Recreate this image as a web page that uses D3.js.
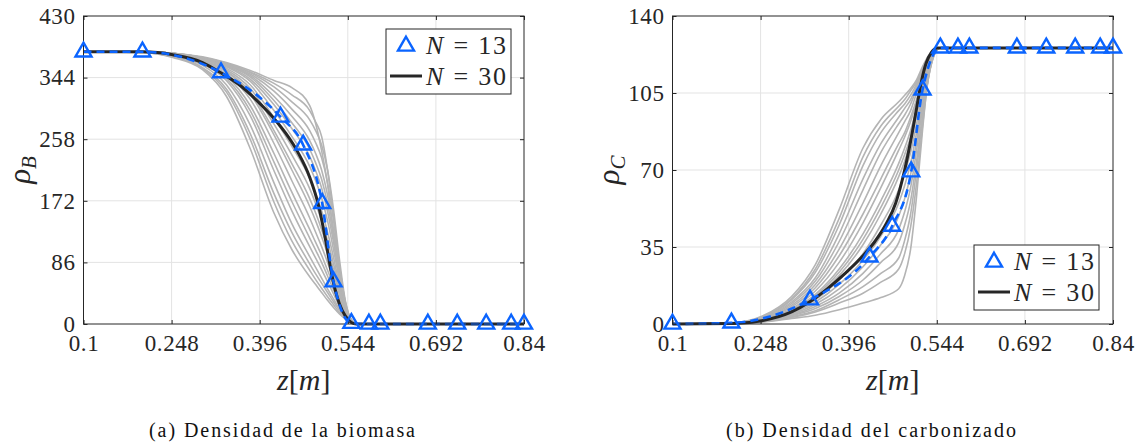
<!DOCTYPE html>
<html>
<head>
<meta charset="utf-8">
<script src="https://cdn.jsdelivr.net/npm/d3@7"></script>
<style>
  html, body { margin: 0; padding: 0; background: #fff; }
  svg { display: block; font-family: "Liberation Serif", "DejaVu Serif", serif; }
  svg text { font-family: "Liberation Serif", "DejaVu Serif", serif !important; fill: #262626; }
</style>
</head>
<body>
<svg id="fig" width="1139" height="443"></svg>
<script>
// Axial positions (m)
const zTicks = [0.1, 0.248, 0.396, 0.544, 0.692, 0.84];
const rhoBTicks = [0, 86, 172, 258, 344, 430];
const rhoCTicks = [0, 35, 70, 105, 140];

// Collocation nodes of the N = 13 solution
const zN13 = [0.1, 0.199, 0.331, 0.431, 0.469, 0.501, 0.520, 0.550, 0.5795, 0.5987, 0.6785, 0.7279, 0.7765, 0.8185, 0.84];
const rhoBN13 = [380, 380, 351, 289, 250, 168.5, 59, 1, 0, 0, 0, 0, 0, 0, 0];
const rhoCN13 = [0, 0.5, 11, 30.5, 44.5, 69.2, 106.4, 125.5, 125.5, 125.5, 125.5, 125.5, 125.5, 125.5, 125.5];

// Reference solution N = 30
const zN30B = [0.1, 0.2, 0.25, 0.3, 0.33, 0.36, 0.39, 0.42, 0.44, 0.46, 0.48, 0.495, 0.505, 0.515, 0.522, 0.53, 0.54, 0.55, 0.558, 0.84];
const rhoBN30 = [380, 380, 376, 365, 351, 335, 313, 287, 266, 240, 205, 165, 125, 78, 50, 28, 11, 2, 0, 0];
const zN30C = [0.1, 0.2, 0.25, 0.3, 0.33, 0.36, 0.39, 0.42, 0.44, 0.46, 0.475, 0.49, 0.5, 0.51, 0.518, 0.526, 0.535, 0.545, 0.84];
const rhoCN30 = [0, 0.2, 1.5, 5.5, 10, 16, 23, 31, 37.5, 46, 55, 70, 83, 98, 110, 118.5, 123.5, 125.5, 125.5];

// Sampled realisations (gray), all on the same z grid
const zSamples = [0.1, 0.2, 0.25, 0.3, 0.34, 0.38, 0.42, 0.45, 0.48, 0.49, 0.5, 0.51, 0.52, 0.53, 0.54, 0.55, 0.56, 0.84];
const rhoBSamples = [
  [380,379,372,355,318,245,155,104,66,55,44,33,23,14,7,2,0,0],
  [380,379,373,357,324,258,170,116,75,62,50,38,27,16,8,2,0,0],
  [380,379,373,358,328,266,182,128,84,70,57,44,31,19,9,2,0,0],
  [380,380,374,361,334,278,197,140,94,79,64,49,35,21,10,2,0,0],
  [380,380,375,363,340,291,214,158,108,92,76,59,42,25,11,3,0,0],
  [380,380,375,364,343,298,226,171,120,103,86,67,48,28,12,3,0,0],
  [380,380,375,365,346,305,238,184,132,114,96,75,54,31,13,3,0,0],
  [380,380,376,366,349,314,252,200,148,128,108,86,62,36,15,3,0,0],
  [380,380,376,367,352,321,264,215,164,144,122,98,70,41,17,4,0,0],
  [380,380,376,367,353,324,270,224,175,155,132,106,76,45,18,4,0,0],
  [380,380,377,368,355,329,279,236,189,168,144,116,84,49,19,4,0,0],
  [380,380,377,369,357,334,288,248,203,182,158,128,93,54,21,4,0,0],
  [380,380,377,370,359,339,298,262,220,200,176,144,104,61,23,5,0,0],
  [380,380,378,370,360,342,306,273,234,214,190,157,114,66,24,5,0,0],
  [380,380,378,371,361,345,312,281,244,225,202,168,122,70,26,5,0,0],
  [380,380,378,371,362,347,318,290,256,238,215,180,132,75,27,5,0,0],
  [380,380,378,372,363,349,325,300,270,253,232,197,145,82,29,6,0,0],
  [380,380,378,372,364,351,331,310,285,270,250,215,160,90,32,6,0,0],
  [380,380,378,372,364,352,336,320,298,282,262,215,150,80,30,6,0,0],
  [380,380,378,373,365,354,340,330,305,280,242,195,125,68,25,6,0,0]
];
const rhoCSamples = [
  [0,0.5,3.5,12.5,27,52,80,93,101,104,107,111,117,122,125,125.5,125.5,125.5],
  [0,0.4,3.2,11.5,25,48,76,90,99,102,106,110,116,121,124.5,125.5,125.5,125.5],
  [0,0.4,3,11,23.5,45,72,87,97,100,104,109,116,121,124.5,125.5,125.5,125.5],
  [0,0.4,2.8,10,21,41,66,82,94,98,102,108,115,121,124.5,125.5,125.5,125.5],
  [0,0.3,2.6,9.3,19.5,37.5,61,78,91,95,100,107,114,120,124,125.5,125.5,125.5],
  [0,0.3,2.4,8.5,18,34,55,72,87,92,97,105,113,120,124,125.5,125.5,125.5],
  [0,0.3,2.2,7.8,16.5,31,50,66,82,87,94,102,112,119,124,125.5,125.5,125.5],
  [0,0.3,2,7,15,28,46,62,79,85,92,101,111,119,124,125.5,125.5,125.5],
  [0,0.3,1.9,6.5,13.5,25,41,56,73,80,88,98,109,118,123.5,125.5,125.5,125.5],
  [0,0.3,1.8,6.2,12.8,23.5,38.5,53,70,77,85,96,108,117,123.5,125.5,125.5,125.5],
  [0,0.3,1.8,6,12,22,36,50,67,74,83,95,107,117,123.5,125.5,125.5,125.5],
  [0,0.2,1.6,5.5,11,20,32,45,61,69,78,91,105,116,123,125.5,125.5,125.5],
  [0,0.2,1.5,5,10,18,29,40,55,63,73,87,103,115,123,125.5,125.5,125.5],
  [0,0.2,1.4,4.5,9,16,26,36,49,57,68,83,100,114,123,125.5,125.5,125.5],
  [0,0.2,1.3,4,8,14,23,32,43,51,62,79,98,113,122.5,125.5,125.5,125.5],
  [0,0.2,1.2,3.7,7,12.5,20,28,37,45,56,74,95,112,122.5,125.5,125.5,125.5],
  [0,0.2,1.1,3.3,6,11,17,23,30,38,50,70,93,112,122.5,125.5,125.5,125.5],
  [0,0.2,1,3,5.5,9.5,14,19,25,32,44,64,90,112,123,125.5,125.5,125.5],
  [0,0.1,0.8,2.5,4,6.5,9.5,12,16,22,34,58,88,113,123,125.5,125.5,125.5]
];

const svg = d3.select("#fig");
const BLUE = "#0a64ff";
const GRAY = "#b4b4b4";
const DARK = "#262626";

function triPath(size) {
  // upward triangle centred on its centroid
  const h = size * Math.sqrt(3) / 2;
  return `M0,${-2 * h / 3}L${size / 2},${h / 3}L${-size / 2},${h / 3}Z`;
}

function panel(opt) {
  const x = d3.scaleLinear().domain([0.1, 0.84]).range([opt.left, opt.left + 440.5]);
  const y = d3.scaleLinear().domain([0, opt.ymax]).range([324, 16]);
  const g = svg.append("g");

  // grid
  g.append("g").selectAll("line").data(zTicks.slice(1, -1)).join("line")
    .attr("x1", d => x(d)).attr("x2", d => x(d)).attr("y1", y(0)).attr("y2", y(opt.ymax))
    .attr("stroke", "#e3e3e3").attr("stroke-width", 1);
  g.append("g").selectAll("line").data(opt.yTicks.slice(1, -1)).join("line")
    .attr("x1", x(0.1)).attr("x2", x(0.84)).attr("y1", d => y(d)).attr("y2", d => y(d))
    .attr("stroke", "#e3e3e3").attr("stroke-width", 1);

  const lineS = d3.line().x((d, i) => x(zSamples[i])).y(d => y(d)).curve(d3.curveMonotoneX);
  g.append("g").selectAll("path").data(opt.samples).join("path")
    .attr("d", lineS).attr("fill", "none").attr("stroke", GRAY).attr("stroke-width", 1.6);

  const lineXY = d3.line().x(d => x(d[0])).y(d => y(d[1])).curve(d3.curveMonotoneX);
  g.append("path").datum(opt.z30.map((z, i) => [z, opt.v30[i]]))
    .attr("d", lineXY).attr("fill", "none").attr("stroke", DARK).attr("stroke-width", 3);

  const pts13 = zN13.map((z, i) => [z, opt.v13[i]]);
  g.append("path").datum(pts13)
    .attr("d", lineXY).attr("fill", "none").attr("stroke", BLUE).attr("stroke-width", 2.6)
    .attr("stroke-dasharray", "8,5");

  // axes box
  g.append("rect").attr("x", x(0.1)).attr("y", y(opt.ymax))
    .attr("width", x(0.84) - x(0.1)).attr("height", y(0) - y(opt.ymax))
    .attr("fill", "none").attr("stroke", DARK).attr("stroke-width", 1);

  // axes with inward ticks
  const xa = g.append("g").attr("transform", `translate(0,${y(0)})`)
    .call(d3.axisBottom(x).tickValues(zTicks).tickSize(-4).tickPadding(11).tickFormat(d => String(d)));
  const ya = g.append("g").attr("transform", `translate(${x(0.1)},0)`)
    .call(d3.axisLeft(y).tickValues(opt.yTicks).tickSize(-4).tickPadding(8));
  const yr = g.append("g").attr("transform", `translate(${x(0.84)},0)`)
    .call(d3.axisRight(y).tickValues(opt.yTicks).tickSize(-4).tickFormat(""));
  const xt = g.append("g").attr("transform", `translate(0,${y(opt.ymax)})`)
    .call(d3.axisTop(x).tickValues(zTicks).tickSize(-4).tickFormat(""));
  [xa, ya, yr, xt].forEach(a => {
    a.attr("font-family", null).attr("font-size", null);
    a.select(".domain").remove();
    a.selectAll(".tick line").attr("stroke", DARK);
    a.selectAll("text").attr("font-size", 23).attr("letter-spacing", 0.6).attr("fill", DARK);
  });
  xa.selectAll("text").attr("dy", "0.71em");

  // markers
  g.append("g").selectAll("path").data(pts13).join("path")
    .attr("transform", d => `translate(${x(d[0])},${y(d[1])})`)
    .attr("d", triPath(16)).attr("fill", "none").attr("stroke", BLUE).attr("stroke-width", 2.4);

  // axis titles
  const xl = g.append("text").attr("x", (x(0.1) + x(0.84)) / 2).attr("y", 390)
    .attr("text-anchor", "middle").attr("font-size", 30);
  xl.append("tspan").attr("font-style", "italic").text("z");
  xl.append("tspan").text("[");
  xl.append("tspan").attr("font-style", "italic").text("m");
  xl.append("tspan").text("]");

  const yl = g.append("text").attr("transform", `translate(${opt.left - 54},170) rotate(-90)`)
    .attr("text-anchor", "middle").attr("font-size", 31);
  yl.append("tspan").attr("font-style", "italic").text("ρ");
  yl.append("tspan").attr("font-style", "italic").attr("font-size", 21).attr("dy", 6).text(opt.sub);

  // legend
  const L = opt.legend;
  const lg = g.append("g").attr("transform", `translate(${L.x},${L.y})`);
  lg.append("rect").attr("width", 125).attr("height", 65).attr("fill", "#fff")
    .attr("stroke", DARK).attr("stroke-width", 1);
  lg.append("path").attr("transform", "translate(20,17)").attr("d", triPath(16))
    .attr("fill", "none").attr("stroke", BLUE).attr("stroke-width", 2.4);
  lg.append("line").attr("x1", 4).attr("x2", 36).attr("y1", 47).attr("y2", 47)
    .attr("stroke", DARK).attr("stroke-width", 3);
  [["13", 25], ["30", 56]].forEach(([n, yy]) => {
    const t = lg.append("text").attr("x", 40).attr("y", yy).attr("font-size", 26)
      .attr("textLength", 80).attr("lengthAdjust", "spacing");
    t.append("tspan").attr("font-style", "italic").text("N");
    t.append("tspan").text(" = " + n);
  });

  // caption
  svg.append("text").attr("x", opt.capX).attr("y", 437).attr("text-anchor", "middle")
    .attr("font-size", 20).style("fill", "#111")
    .attr("textLength", opt.capW).attr("lengthAdjust", "spacing").text(opt.caption);
}

panel({
  left: 83.5, ymax: 430, yTicks: rhoBTicks, samples: rhoBSamples,
  z30: zN30B, v30: rhoBN30, v13: rhoBN13, sub: "B",
  legend: { x: 386, y: 29 }, capX: 282, capW: 266, caption: "(a)  Densidad de la biomasa"
});
panel({
  left: 672.5, ymax: 140, yTicks: rhoCTicks, samples: rhoCSamples,
  z30: zN30C, v30: rhoCN30, v13: rhoCN13, sub: "C",
  legend: { x: 974, y: 245 }, capX: 871, capW: 290, caption: "(b)  Densidad del carbonizado"
});
</script>
</body>
</html>
